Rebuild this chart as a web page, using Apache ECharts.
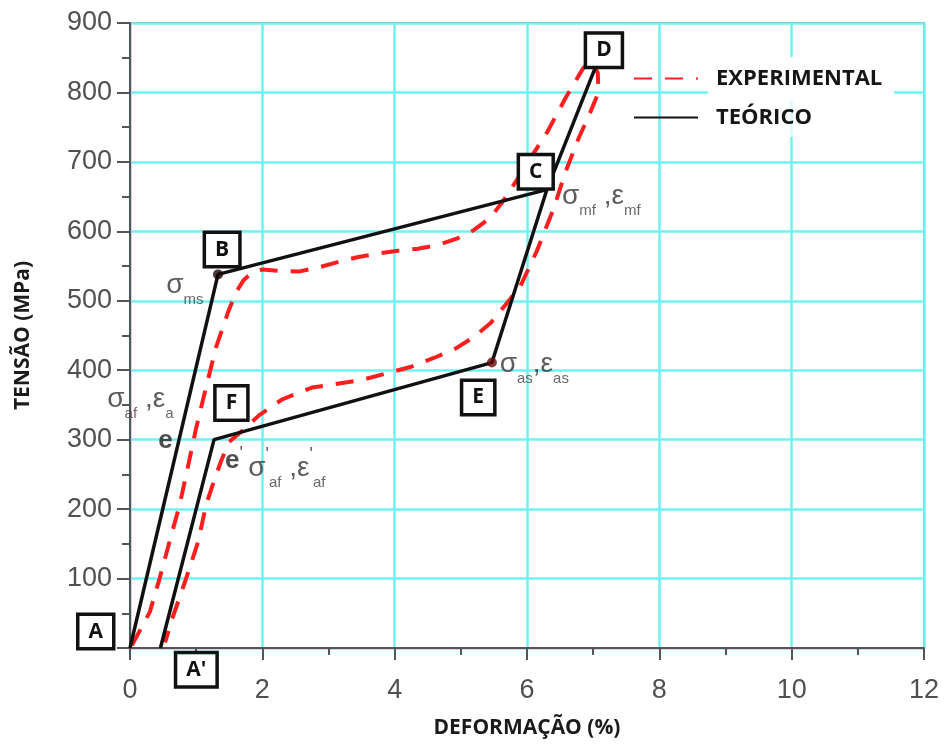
<!DOCTYPE html>
<html><head><meta charset="utf-8">
<script src="https://cdn.jsdelivr.net/npm/echarts@6/dist/echarts.min.js"></script>
<style>html,body{margin:0;padding:0;background:#fff}#c{width:944px;height:746px}</style>
</head><body><div id="c"></div>
<script>
// axis ticks
const xTicks = [0, 2, 4, 6, 8, 10, 12];
const yTicks = [0, 100, 200, 300, 400, 500, 600, 700, 800, 900];

// experimental curve (red dashed)
const expX = [0.03, 0.30, 0.45, 0.60, 0.75, 0.88, 1.00, 1.12, 1.30, 1.48, 1.60, 1.72, 1.85, 2.00, 2.25, 2.55, 2.85, 3.15, 3.45, 3.75, 4.05, 4.35, 4.65, 4.95, 5.20, 5.45, 5.65, 5.84, 6.05, 6.30, 6.60, 6.85, 6.98, 7.07, 7.08, 6.95, 6.78, 6.58, 6.40, 6.15, 5.90, 5.70, 5.45, 5.20, 4.90, 4.60, 4.25, 3.90, 3.50, 3.10, 2.75, 2.30, 1.95, 1.70, 1.50, 1.38, 1.26, 1.15, 1.03, 0.93, 0.83, 0.63, 0.53];
const expY = [4, 52, 101, 154, 206, 263, 317, 364, 433, 483, 512, 530, 541, 545, 543, 542, 548, 556, 563, 568, 572, 575, 580, 590, 602, 620, 645, 673, 705, 742, 795, 835, 845, 828, 800, 770, 734, 685, 632, 572, 521, 497, 468, 448, 430, 418, 405, 396, 386, 380, 375, 358, 335, 313, 297, 270, 238, 206, 153, 124, 95, 40, 8];

// theoretical curve (black solid): A, B, C, D, C, E, F, A'
const thX = [0, 1.33, 6.30, 7.05, 6.30, 5.47, 1.27, 0.46];
const thY = [0, 538, 660, 840, 660, 411, 300, 0];

// marked points (B, E)
const dotX = [1.33, 5.47];
const dotY = [538, 411];
const dotColors = ['#1a0808', '#6a0c0c'];

// boxed point labels
const boxNames = ['A', "A'", 'B', 'C', 'D', 'E', 'F'];
const boxX = [-0.51, 1.01, 1.40, 6.14, 7.17, 5.27, 1.54];
const boxY = [23, -32, 573, 685, 860, 360, 352];

// symbol annotations
const noteTexts = [
  '{g|σ}{s|ms}',
  '{g|σ}{s|af}{g| ,ε}{s|a}',
  '{b|e}',
  "{b|e}{p|'}",
  "{g|σ}{p|'}{s|af}{g| ,ε}{p|'}{s|af}",
  '{g|σ}{s|mf}{g| ,ε}{s|mf}',
  '{g|σ}{s|as}{g|,ε}{s|as}'
];
const noteX = [0.54, -0.35, 0.42, 1.43, 1.78, 6.52, 5.58];
const noteY = [522, 358, 299, 270, 259, 650, 409];

const pair = (xs, ys) => xs.map((x, i) => [x, ys[i]]);

const chart = echarts.init(document.getElementById('c'), null, {renderer: 'canvas'});
const axisColor = '#555';
const gridColor = '#70F2F2';
const labelFont = 'Liberation Sans';

const option = {
  animation: false,
  backgroundColor: '#fff',
  grid: {left: 130, right: 20, top: 23, bottom: 98, show: true, borderColor: '#8a8a8a', borderWidth: 2},
  xAxis: {
    type: 'value', min: xTicks[0], max: xTicks[xTicks.length - 1], interval: xTicks[1] - xTicks[0],
    name: 'DEFORMAÇÃO (%)', nameLocation: 'middle', nameGap: 70,
    nameTextStyle: {fontFamily: 'Open Sans', fontWeight: 'bold', fontSize: 21, color: '#1b1b1b'},
    axisLine: {show: true, onZero: false, lineStyle: {color: axisColor, width: 2}},
    axisTick: {show: true, length: 12, lineStyle: {color: axisColor, width: 2}},
    minorTick: {show: true, splitNumber: 2, length: 7, lineStyle: {color: axisColor, width: 2}},
    splitLine: {show: true, lineStyle: {color: gridColor, width: 2.5}},
    axisLabel: {fontFamily: labelFont, fontSize: 27, color: '#505050', margin: 29, showMinLabel: true, showMaxLabel: true}
  },
  yAxis: {
    type: 'value', min: yTicks[0], max: yTicks[yTicks.length - 1], interval: yTicks[1] - yTicks[0],
    name: 'TENSÃO (MPa)', nameLocation: 'middle', nameGap: 96, nameRotate: 90,
    nameTextStyle: {fontFamily: 'Open Sans', fontWeight: 'bold', fontSize: 21, color: '#1b1b1b'},
    axisLine: {show: true, onZero: false, lineStyle: {color: axisColor, width: 2}},
    axisTick: {show: true, length: 13, lineStyle: {color: axisColor, width: 2}},
    minorTick: {show: true, splitNumber: 2, length: 8, lineStyle: {color: axisColor, width: 2}},
    splitLine: {show: true, lineStyle: {color: gridColor, width: 2.5}},
    axisLabel: {fontFamily: labelFont, fontSize: 27, color: '#505050', margin: 18, showMinLabel: false}
  },
  legend: {
    orient: 'vertical', left: 633, top: 67, padding: 0, itemGap: 16,
    itemWidth: 64, itemHeight: 14, selectedMode: false,
    itemStyle: {color: 'rgba(0,0,0,0)', borderWidth: 0},
    textStyle: {fontFamily: 'Open Sans', fontWeight: 'bold', fontSize: 22, color: '#161616', lineHeight: 23, padding: [0, 0, 0, 13]},
    data: ['EXPERIMENTAL', 'TEÓRICO']
  },
  graphic: [
    {type: 'rect', z: 1, shape: {x: 708, y: 57, width: 186, height: 44}, style: {fill: '#fff'}},
    {type: 'rect', z: 1, shape: {x: 708, y: 101, width: 186, height: 36}, style: {fill: 'rgba(255,255,255,0.7)'}}
  ],
  series: [
    {
      name: 'EXPERIMENTAL', type: 'line', data: pair(expX, expY), symbol: 'none', smooth: false,
      lineStyle: {color: '#ff1e1e', width: 4, type: [18, 13]}, itemStyle: {color: '#ff1e1e'}, z: 3
    },
    {
      name: 'TEÓRICO', type: 'line', data: pair(thX, thY), symbol: 'none',
      lineStyle: {color: '#111', width: 3.5}, itemStyle: {color: '#111'}, z: 4
    },
    {
      type: 'scatter', silent: true, z: 5, symbolSize: 10,
      data: pair(dotX, dotY).map((v, i) => ({value: v, itemStyle: {color: dotColors[i]}}))
    },
    {
      type: 'scatter', silent: true, clip: false, z: 6, symbolSize: 1,
      itemStyle: {color: 'rgba(0,0,0,0)'},
      data: pair(noteX, noteY).map((v, i) => ({value: v, name: noteTexts[i]})),
      label: {
        show: true, position: 'right', distance: 0, formatter: p => p.name,
        rich: {
          g: {fontFamily: labelFont, fontSize: 28, color: '#333', lineHeight: 44},
          s: {fontFamily: labelFont, fontSize: 15, color: '#444', lineHeight: 14, verticalAlign: 'bottom'},
          p: {fontFamily: labelFont, fontSize: 18, color: '#333', lineHeight: 18, verticalAlign: 'top'},
          b: {fontFamily: labelFont, fontSize: 26, fontWeight: 'bold', color: '#222', lineHeight: 30}
        }
      }
    },
    {
      type: 'scatter', silent: true, clip: false, z: 7, symbolSize: 1,
      itemStyle: {color: 'rgba(0,0,0,0)'},
      data: pair(boxX, boxY).map((v, i) => ({value: v, name: boxNames[i]})),
      label: {
        show: true, position: [0, 0], align: 'center', verticalAlign: 'middle', formatter: p => p.name,
        fontFamily: 'Open Sans', fontWeight: 'bold', fontSize: 21, color: '#111', lineHeight: 25,
        textBorderWidth: 0, opacity: 1,
        backgroundColor: '#fff', borderColor: '#111', borderWidth: 3.5, padding: [4, 9, 2, 9]
      }
    }
  ]
};
chart.setOption(option);
</script>
</body></html>
